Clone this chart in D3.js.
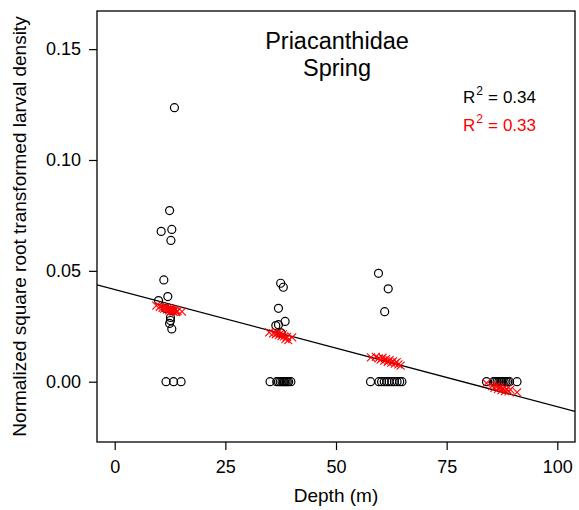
<!DOCTYPE html>
<html><head><meta charset="utf-8">
<script src="https://cdn.jsdelivr.net/npm/d3@7"></script>
<style>body{margin:0;background:#fff}text{font-family:Arial,"Liberation Sans",sans-serif}</style>
</head><body><svg id="c" width="579" height="510"></svg>
<script>
const title1 = "Priacanthidae";
const title2 = "Spring";
const xLabel = "Depth (m)";
const yLabel = "Normalized square root transformed larval density";
const xTicks = [0, 25, 50, 75, 100];
const yTicks = [0.00, 0.05, 0.10, 0.15];
const xDomain = [0, 100];
const yDomain = [-0.02, 0.16];
const r2Obs = "0.34";
const r2Fit = "0.33";
const lineIntercept = 0.0416;
const lineSlope = -0.000529;

const depthObs = [13.5,12.4,10.5,12.9,12.7,11.1,12.0,9.9,12.6,12.6,12.4,12.9,11.6,13.3,15.0,11.5,13.0,
  37.5,38.1,37.0,38.5,36.4,37.0,37.6,35.1,36.6,37.0,37.4,37.8,38.1,38.4,38.7,39.0,39.3,39.8,
  59.6,61.8,61.0,57.8,59.7,60.3,60.9,61.5,62.0,62.6,63.2,63.8,64.4,64.9,
  84.0,85.6,86.0,86.4,86.8,87.2,87.6,88.0,88.4,88.8,89.2,90.9];
const densObs = [0.1236,0.0772,0.0678,0.0687,0.0637,0.0459,0.0384,0.0366,0.0290,0.0276,0.0263,0.0238,0,0,0,0.033,0.032,
  0.0444,0.0426,0.0331,0.0272,0.0253,0.0257,0.022,0,0,0,0,0,0,0,0,0,0,0,
  0.0489,0.0419,0.0316,0,0,0,0,0,0,0,0,0,0,0,
  0,0,0,0,0,0,0,0,0,0,0,0];

const depthFit = [9.4,10.2,10.8,11.2,11.5,11.8,12.0,12.3,12.5,12.7,12.9,13.1,13.3,13.6,13.9,14.2,15.2,
  34.9,35.8,36.4,36.8,37.1,37.4,37.7,38.0,38.3,38.6,38.9,39.2,40.1,
  57.9,59.0,59.6,60.1,60.5,60.9,61.3,61.7,62.1,62.5,62.9,63.3,63.7,64.1,64.6,
  84.0,85.3,85.8,86.2,86.6,87.0,87.4,87.8,88.2,88.6,89.0,89.4,90.9];
const densFit = [0.0343,0.0338,0.0333,0.0330,0.0335,0.0326,0.0331,0.0322,0.0328,0.0318,0.0325,0.0320,0.0315,0.0323,0.0314,0.0318,0.0316,
  0.0222,0.0218,0.0214,0.0220,0.0210,0.0216,0.0206,0.0213,0.0204,0.0192,0.0202,0.0188,0.0200,
  0.0110,0.0112,0.0105,0.0100,0.0108,0.0095,0.0102,0.0090,0.0097,0.0086,0.0092,0.0082,0.0088,0.0078,0.0072,
  -0.0006,-0.0020,-0.0028,-0.0018,-0.0032,-0.0025,-0.0038,-0.0030,-0.0042,-0.0034,-0.0044,-0.0036,-0.0048];

const L = 97, R = 575, T = 11, B = 442;
const xPad = (xDomain[1]-xDomain[0])*0.04, yPad = (yDomain[1]-yDomain[0])*0.04;
const x = d3.scaleLinear().domain([xDomain[0]-xPad, xDomain[1]+xPad]).range([L, R]);
const y = d3.scaleLinear().domain([yDomain[0]-yPad, yDomain[1]+yPad]).range([B, T]);
const svg = d3.select("#c");

svg.append("defs").append("clipPath").attr("id","clip").append("rect")
  .attr("x",L).attr("y",T).attr("width",R-L).attr("height",B-T);

// axes
const xAx = svg.append("g").attr("transform",`translate(0,${B})`)
  .call(d3.axisBottom(x).tickValues(xTicks).tickFormat(d3.format("d")).tickSize(8).tickPadding(10));
const yAx = svg.append("g").attr("transform",`translate(${L},0)`)
  .call(d3.axisLeft(y).tickValues(yTicks).tickFormat(d3.format(".2f")).tickSize(8).tickPadding(8));
[xAx,yAx].forEach(g=>{
  g.select(".domain").remove();
  g.selectAll("line").attr("stroke","#000").attr("stroke-width",1.2);
  g.selectAll("text").attr("font-size",18).attr("fill","#000").attr("font-family","Arial, Liberation Sans, sans-serif");
});

// frame
svg.append("rect").attr("x",L).attr("y",T).attr("width",R-L).attr("height",B-T)
  .attr("fill","none").attr("stroke","#000").attr("stroke-width",1.3);

const plot = svg.append("g").attr("clip-path","url(#clip)");
// regression line
const xd = x.domain();
plot.append("line")
  .attr("x1",x(xd[0])).attr("y1",y(lineIntercept+lineSlope*xd[0]))
  .attr("x2",x(xd[1])).attr("y2",y(lineIntercept+lineSlope*xd[1]))
  .attr("stroke","#000").attr("stroke-width",1.3);

// observed circles
plot.selectAll("circle.o").data(d3.range(depthObs.length)).join("circle")
  .attr("cx",i=>x(depthObs[i])).attr("cy",i=>y(densObs[i])).attr("r",4)
  .attr("fill","none").attr("stroke","#000").attr("stroke-width",1.2);

// fitted crosses
const s = 4;
plot.selectAll("path.f").data(d3.range(depthFit.length)).join("path")
  .attr("d",i=>{const cx=x(depthFit[i]), cy=y(densFit[i]);
    return `M${cx-s},${cy-s}L${cx+s},${cy+s}M${cx-s},${cy+s}L${cx+s},${cy-s}`;})
  .attr("stroke","#ff0000").attr("stroke-width",1.1).attr("fill","none");

// titles
svg.append("text").attr("x",337).attr("y",48.5).attr("text-anchor","middle").attr("font-size",23.5).text(title1);
svg.append("text").attr("x",337).attr("y",75.5).attr("text-anchor","middle").attr("font-size",23.5).text(title2);

function r2(yy, val, col){
  const t = svg.append("text").attr("x",463).attr("y",yy).attr("font-size",17).attr("fill",col);
  t.append("tspan").text("R");
  t.append("tspan").attr("font-size",12).attr("dx",1).attr("dy",-8).text("2");
  t.append("tspan").attr("dx",5).attr("dy",8).text("=");
  t.append("tspan").attr("dx",5).text(val);
}
r2(103, r2Obs, "#000");
r2(131, r2Fit, "#ff0000");

// axis labels
svg.append("text").attr("x",(L+R)/2).attr("y",502).attr("text-anchor","middle").attr("font-size",19).text(xLabel);
svg.append("text").attr("transform",`translate(26,${(T+B)/2}) rotate(-90)`).attr("text-anchor","middle").attr("font-size",19).text(yLabel);
</script></body></html>
